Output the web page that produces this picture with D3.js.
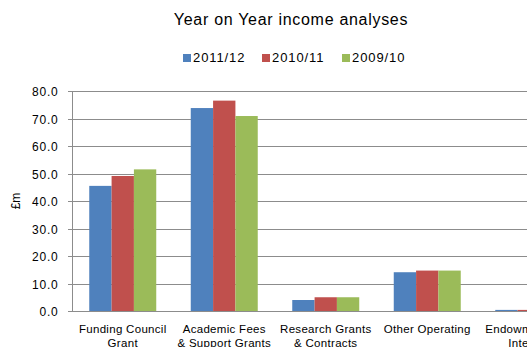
<!DOCTYPE html>
<meta charset="utf-8">
<style>
body { margin: 0; overflow: hidden; background: #fff; }
text { font-family: "Liberation Sans", Arial, sans-serif; fill: #000; }
.grid line { stroke: #8c8c8c; stroke-width: 1px; }
.axis path, .axis line { stroke: #8c8c8c; shape-rendering: crispEdges; }
</style>
<body>
<script src="https://cdn.jsdelivr.net/npm/d3@7/dist/d3.min.js"></script>
<script>

// data
var categories = [
  ["Funding Council", "Grant"],
  ["Academic Fees", "& Support  Grants"],
  ["Research Grants", "& Contracts"],
  ["Other Operating"],
  ["Endowment and", "Interest"]
];
var seriesNames = ["2011/12", "2010/11", "2009/10"];
var seriesColors = ["#4F81BD", "#C0504D", "#9BBB59"];
var v2011 = [45.5, 73.8, 4.0, 14.1, 0.4];
var v2010 = [49.1, 76.5, 5.0, 14.7, 0.4];
var v2009 = [51.5, 70.9, 5.0, 14.7, 0.5];
var yTicks = [0, 10, 20, 30, 40, 50, 60, 70, 80];

var width = 600, height = 347;
var margin = { top: 91, left: 72, bottom: 36 };
var plotW = 507.5, plotH = height - margin.top - margin.bottom;

var svg = d3.select("body").append("svg")
    .attr("width", width)
    .attr("height", height);

var x0 = d3.scaleBand()
    .domain(d3.range(categories.length))
    .range([margin.left, margin.left + plotW])
    .paddingInner(0.34)
    .paddingOuter(0.17);

var x1 = d3.scaleBand()
    .domain(d3.range(seriesNames.length))
    .range([0, x0.bandwidth()]);

var y = d3.scaleLinear()
    .domain([0, 80])
    .range([margin.top + plotH, margin.top]);

// gridlines
svg.append("g").attr("class", "grid")
  .selectAll("line")
  .data(yTicks)
  .enter().append("line")
    .attr("x1", margin.left - 4)
    .attr("x2", margin.left + plotW)
    .attr("y1", function(d) { return Math.round(y(d)) + 0.5; })
    .attr("y2", function(d) { return Math.round(y(d)) + 0.5; });

// y axis
var yAxis = svg.append("g").attr("class", "axis")
    .attr("transform", "translate(" + (margin.left + 0.5) + ",0)")
    .call(d3.axisLeft(y).tickValues(yTicks).tickSize(0).tickPadding(14)
      .tickFormat(d3.format(".1f")));
yAxis.select(".domain").attr("d", "M0," + (margin.top + 0.5) + "V" + (margin.top + plotH + 0.5));
yAxis.selectAll("text")
    .style("font-size", "12px")
    .style("letter-spacing", "0.8px")
    .attr("dy", "0.38em");

svg.append("text")
    .attr("transform", "translate(20," + (margin.top + plotH / 2) + ") rotate(-90)")
    .attr("text-anchor", "middle")
    .style("font-size", "12px")
    .text("£m");

// bars
var series = [v2011, v2010, v2009];
var groups = svg.append("g")
  .selectAll("g")
  .data(series)
  .enter().append("g")
    .attr("fill", function(d, i) { return seriesColors[i]; });

groups.each(function(vals, si) {
  d3.select(this).selectAll("rect")
    .data(vals)
    .enter().append("rect")
      .attr("x", function(d, ci) { return x0(ci) + x1(si); })
      .attr("width", x1.bandwidth())
      .attr("y", function(d) { return y(d); })
      .attr("height", function(d) { return y(0) - y(d); });
});

// x axis line
svg.append("line")
    .attr("x1", margin.left)
    .attr("x2", margin.left + plotW)
    .attr("y1", Math.round(y(0)) + 0.5)
    .attr("y2", Math.round(y(0)) + 0.5)
    .attr("stroke", "#8c8c8c");

// category labels
var labels = svg.append("g")
  .selectAll("text")
  .data(categories)
  .enter().append("text")
    .attr("text-anchor", "middle")
    .attr("x", function(d, i) { return x0(i) + x0.bandwidth() / 2; })
    .attr("y", 333)
    .style("font-size", "11.5px")
    .style("letter-spacing", "0.3px");

labels.selectAll("tspan")
  .data(function(d) { return d; })
  .enter().append("tspan")
    .attr("x", function() { return d3.select(this.parentNode).attr("x"); })
    .attr("dy", function(d, i) { return i ? 13.5 : 0; })
    .text(function(d) { return d; });

// title
svg.append("text")
    .attr("x", 291)
    .attr("y", 25)
    .attr("text-anchor", "middle")
    .style("font-size", "16px")
    .style("letter-spacing", "0.7px")
    .text("Year on Year income analyses");

// legend
var legendX = [183, 262, 342];
var legend = svg.append("g")
  .selectAll("g")
  .data(seriesNames)
  .enter().append("g")
    .attr("transform", function(d, i) { return "translate(" + legendX[i] + ",54)"; });

legend.append("rect")
    .attr("width", 8)
    .attr("height", 8)
    .attr("fill", function(d, i) { return seriesColors[i]; });

legend.append("text")
    .attr("x", 10)
    .attr("y", 8.3)
    .style("font-size", "13px")
    .style("letter-spacing", "0.9px")
    .text(function(d) { return d; });

</script>
</body>
